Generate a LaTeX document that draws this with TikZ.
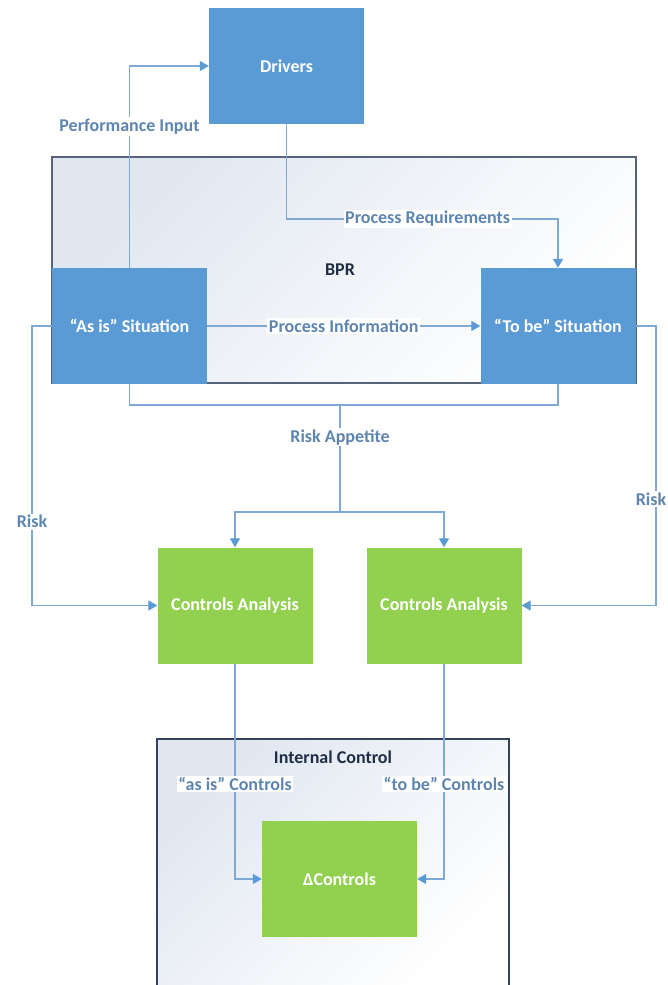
\documentclass[tikz,border=0pt]{standalone}
\usepackage{fontspec}
\setmainfont{Carlito}
\usetikzlibrary{arrows.meta,calc}

\definecolor{boxblue}{HTML}{5B9BD5}
\definecolor{boxgreen}{HTML}{92D050}
\definecolor{wire}{HTML}{7FA8D4}
\definecolor{tipblue}{HTML}{5B9BD5}
\definecolor{lbltext}{HTML}{5E85B0}
\definecolor{frameedge}{HTML}{56647A}
\definecolor{frameedgedark}{HTML}{34425E}
\definecolor{titletext}{HTML}{1F2D45}
\definecolor{haze}{HTML}{E0E7F1}

\tikzset{
  procbox/.style={rectangle, draw=none, minimum width=155pt, minimum height=116pt,
    inner sep=0pt, text=white, font=\fontsize{18}{21}\selectfont\bfseries},
  bluebox/.style={procbox, fill=boxblue},
  greenbox/.style={procbox, fill=boxgreen},
  wireline/.style={draw=wire, line width=1.3pt},
  arr/.style={wireline, -{Triangle[length=9pt,width=10pt,color=tipblue]}},
  lbl/.style={fill=white, text=lbltext, inner sep=1.5pt,
    font=\fontsize{18}{21}\selectfont\bfseries},
  ttl/.style={text=titletext, font=\fontsize{18}{21}\selectfont\bfseries},
}

\begin{document}
\begin{tikzpicture}[x=1pt,y=-1pt]
  \useasboundingbox (0,0) rectangle (667,985);
  \fill[white] (0,0) rectangle (667,985);

  % BPR frame
  \shade[top color=haze, bottom color=white, shading angle=45]
    (52,157) rectangle (636,383);
  \draw[frameedge, line width=1.2pt] (52,157) rectangle (636,383);
  \node[ttl] (bpr) at (340,270) {BPR};

  % Internal Control frame (runs off the lower edge)
  \shade[top color=haze, bottom color=white, shading angle=45]
    (157,739) rectangle (509,985);
  \draw[frameedgedark, line width=1.2pt] (157,990) -- (157,739) -- (509,739) -- (509,990);
  \node[ttl] (ic) at (333,757) {Internal Control};

  % process boxes
  \node[bluebox] (drivers) at (286.5,66) {Drivers};
  \node[bluebox] (asis) at (129.5,326) {“As is” Situation};
  \node[bluebox] (tobe) at (558,326) {“To be” Situation};
  \node[greenbox] (ca1) at (235,605.5) {Controls Analysis};
  \node[greenbox] (ca2) at (444,605.5) {Controls Analysis};
  \node[greenbox] (delta) at (339.5,879) {ΔControls};

  % helper coordinates for bends
  \coordinate (rq) at (0,219);
  \coordinate (ra) at (0,405);
  \coordinate (raTop) at (340,405);
  \coordinate (raSplit) at (340,512);
  \coordinate (rl) at (32,326);
  \coordinate (rr) at (656,326);

  % connectors
  \draw[arr] (asis.north) |- node[lbl, pos=0.35] {Performance Input} (drivers.west);
  \draw[arr] (drivers.south) -- (drivers.south |- rq)
    -- node[lbl, pos=0.52] {Process Requirements} (tobe.north |- rq) -- (tobe.north);
  \draw[arr] (asis.east) -- node[lbl] {Process Information} (tobe.west);
  \draw[wireline] (asis.south) -- (asis.south |- ra) -- (tobe.south |- ra) -- (tobe.south);
  \draw[wireline] (raTop) -- node[lbl, pos=0.3] {Risk Appetite} (raSplit);
  \draw[arr] (raSplit) -| (ca1.north);
  \draw[arr] (raSplit) -| (ca2.north);
  \draw[arr] (asis.west) -- (rl) |- node[lbl, pos=0.35] {Risk} (ca1.west);
  \draw[arr] (tobe.east) -- (rr) |- node[lbl, pos=0.31, xshift=-5pt] {Risk} (ca2.east);
  \draw[arr] (ca1.south) |- node[lbl, pos=0.28] {“as is” Controls} (delta.west);
  \draw[arr] (ca2.south) |- node[lbl, pos=0.28] {“to be” Controls} (delta.east);
\end{tikzpicture}
\end{document}
